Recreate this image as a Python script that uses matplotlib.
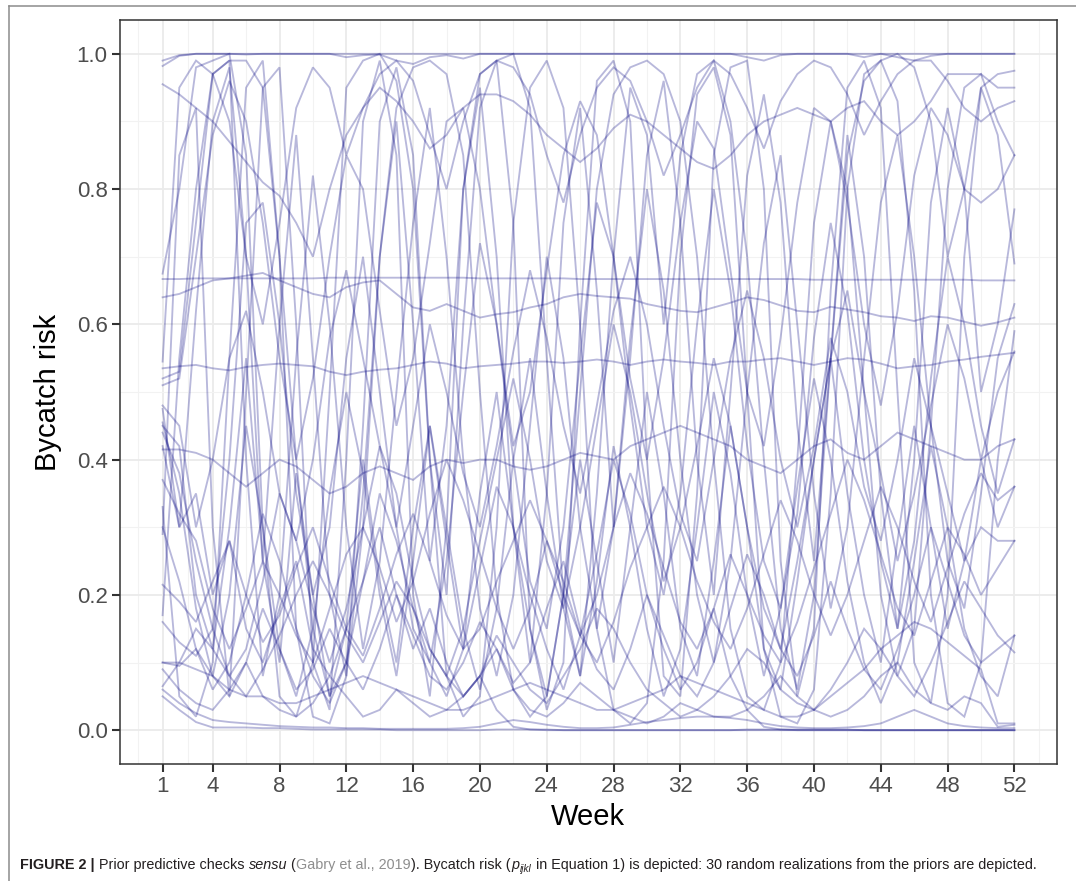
import matplotlib
matplotlib.use("Agg")
import matplotlib.pyplot as plt
from matplotlib.lines import Line2D

plt.rcParams['font.family'] = ['Liberation Sans', 'DejaVu Sans']

# ---------------- data ----------------
weeks = list(range(1, 53))
x_tick_labels = [1, 4, 8, 12, 16, 20, 24, 28, 32, 36, 40, 44, 48, 52]
y_tick_labels = [0.0, 0.2, 0.4, 0.6, 0.8, 1.0]

r01 = [0.982, 0.997, 1.0, 1.0, 1.0, 1.0, 1.0, 1.0, 1.0, 1.0, 1.0, 1.0, 1.0,
       1.0, 1.0, 1.0, 1.0, 1.0, 1.0, 1.0, 1.0, 1.0, 1.0, 1.0, 1.0, 1.0,
       1.0, 1.0, 1.0, 1.0, 1.0, 1.0, 1.0, 1.0, 1.0, 1.0, 1.0, 1.0, 1.0,
       1.0, 1.0, 1.0, 1.0, 1.0, 1.0, 1.0, 1.0, 1.0, 1.0, 1.0, 1.0, 1.0]
r02 = [0.990, 0.998, 1.0, 1.0, 1.0, 0.999, 1.0, 1.0, 1.0, 1.0, 1.0, 0.995, 0.998,
       0.999, 0.990, 0.985, 0.995, 0.998, 0.993, 1.0, 1.0, 1.0, 1.0, 1.0, 1.0, 1.0,
       1.0, 1.0, 1.0, 1.0, 1.0, 1.0, 1.0, 1.0, 1.0, 0.995, 0.990, 0.998, 1.0,
       1.0, 1.0, 1.0, 0.995, 1.0, 0.995, 0.990, 0.997, 1.0, 1.0, 1.0, 1.0, 1.0]
r03 = [0.667, 0.667, 0.668, 0.668, 0.668, 0.668, 0.668, 0.668, 0.668, 0.668, 0.669, 0.669, 0.669,
       0.669, 0.669, 0.669, 0.669, 0.669, 0.669, 0.668, 0.668, 0.668, 0.668, 0.668, 0.668, 0.667,
       0.667, 0.667, 0.667, 0.667, 0.667, 0.667, 0.667, 0.667, 0.667, 0.667, 0.667, 0.667, 0.667,
       0.666, 0.666, 0.666, 0.666, 0.666, 0.666, 0.666, 0.666, 0.666, 0.666, 0.665, 0.665, 0.665]
r04 = [0.640, 0.645, 0.655, 0.665, 0.668, 0.672, 0.676, 0.665, 0.655, 0.645, 0.640, 0.655, 0.662,
       0.665, 0.645, 0.625, 0.620, 0.630, 0.620, 0.610, 0.615, 0.618, 0.625, 0.630, 0.640, 0.645,
       0.642, 0.640, 0.638, 0.630, 0.625, 0.620, 0.618, 0.625, 0.632, 0.640, 0.636, 0.628, 0.620,
       0.618, 0.626, 0.622, 0.618, 0.612, 0.610, 0.605, 0.612, 0.610, 0.604, 0.598, 0.603, 0.610]
r05 = [0.535, 0.538, 0.540, 0.535, 0.532, 0.537, 0.540, 0.542, 0.540, 0.538, 0.530, 0.525, 0.530,
       0.533, 0.535, 0.540, 0.545, 0.542, 0.535, 0.538, 0.540, 0.542, 0.545, 0.545, 0.543, 0.545,
       0.548, 0.545, 0.540, 0.545, 0.548, 0.545, 0.543, 0.540, 0.545, 0.545, 0.548, 0.550, 0.545,
       0.540, 0.545, 0.550, 0.548, 0.542, 0.535, 0.538, 0.540, 0.545, 0.548, 0.552, 0.555, 0.558]
r06 = [0.675, 0.800, 0.980, 0.990, 1.000, 0.850, 0.300, 0.050, 0.020, 0.100, 0.500, 0.950, 0.990,
       1.000, 0.960, 0.800, 0.400, 0.200, 0.600, 0.920, 0.990, 1.000, 0.920, 0.550, 0.200, 0.080,
       0.350, 0.700, 0.950, 0.880, 0.600, 0.850, 0.970, 0.990, 0.900, 0.700, 0.400, 0.150, 0.060,
       0.200, 0.550, 0.850, 0.960, 0.990, 1.000, 0.980, 0.900, 0.700, 0.800, 0.950, 0.970, 0.975]
r07 = [0.45, 0.42, 0.20, 0.12, 0.30, 0.55, 0.25, 0.10, 0.38, 0.20, 0.05, 0.15, 0.40,
       0.22, 0.10, 0.30, 0.45, 0.28, 0.12, 0.35, 0.50, 0.30, 0.15, 0.05, 0.20, 0.40,
       0.25, 0.10, 0.30, 0.50, 0.35, 0.15, 0.08, 0.25, 0.45, 0.30, 0.12, 0.06, 0.22,
       0.40, 0.55, 0.35, 0.20, 0.10, 0.28, 0.45, 0.30, 0.15, 0.25, 0.40, 0.30, 0.36]
r08 = [0.17, 0.55, 0.80, 0.97, 0.99, 0.99, 0.95, 0.70, 0.40, 0.15, 0.05, 0.10, 0.35,
       0.70, 0.92, 0.98, 0.99, 0.97, 0.85, 0.50, 0.20, 0.06, 0.02, 0.05, 0.20, 0.50,
       0.80, 0.94, 0.98, 0.99, 0.97, 0.90, 0.70, 0.40, 0.15, 0.05, 0.03, 0.10, 0.40,
       0.75, 0.90, 0.80, 0.50, 0.20, 0.08, 0.15, 0.45, 0.80, 0.95, 0.97, 0.90, 0.85]
r09 = [0.10, 0.095, 0.12, 0.08, 0.05, 0.10, 0.18, 0.12, 0.06, 0.09, 0.15, 0.10, 0.06,
       0.12, 0.20, 0.14, 0.08, 0.06, 0.10, 0.16, 0.12, 0.07, 0.10, 0.18, 0.25, 0.15,
       0.09, 0.06, 0.12, 0.20, 0.14, 0.08, 0.05, 0.10, 0.18, 0.26, 0.20, 0.12, 0.08,
       0.14, 0.22, 0.15, 0.09, 0.06, 0.12, 0.20, 0.30, 0.22, 0.14, 0.10, 0.12, 0.14]
r10 = [0.09, 0.06, 0.04, 0.03, 0.06, 0.10, 0.05, 0.03, 0.02, 0.04, 0.08, 0.05, 0.02,
       0.03, 0.06, 0.04, 0.02, 0.03, 0.05, 0.08, 0.12, 0.06, 0.03, 0.02, 0.04, 0.07,
       0.05, 0.03, 0.02, 0.01, 0.02, 0.04, 0.03, 0.02, 0.02, 0.03, 0.05, 0.08, 0.05,
       0.03, 0.02, 0.03, 0.05, 0.08, 0.10, 0.06, 0.04, 0.03, 0.05, 0.04, 0.005, 0.008]
r11 = [0.44, 0.38, 0.25, 0.15, 0.08, 0.12, 0.22, 0.35, 0.28, 0.18, 0.10, 0.18, 0.30,
       0.42, 0.35, 0.22, 0.12, 0.08, 0.15, 0.28, 0.40, 0.52, 0.40, 0.25, 0.18, 0.30,
       0.45, 0.60, 0.50, 0.35, 0.22, 0.30, 0.42, 0.55, 0.45, 0.30, 0.18, 0.12, 0.25,
       0.40, 0.55, 0.65, 0.50, 0.38, 0.25, 0.35, 0.48, 0.60, 0.52, 0.40, 0.50, 0.56]
r12 = [0.29, 0.85, 0.92, 0.30, 0.05, 0.50, 0.95, 0.98, 0.60, 0.10, 0.03, 0.40, 0.90,
       0.99, 0.85, 0.20, 0.05, 0.30, 0.80, 0.97, 0.99, 0.75, 0.15, 0.03, 0.10, 0.60,
       0.96, 0.99, 0.90, 0.40, 0.08, 0.05, 0.35, 0.85, 0.98, 0.99, 0.80, 0.25, 0.05,
       0.15, 0.65, 0.95, 0.99, 0.92, 0.50, 0.10, 0.04, 0.20, 0.70, 0.95, 0.88, 0.69]
r13 = [0.16, 0.13, 0.11, 0.15, 0.40, 0.75, 0.78, 0.60, 0.35, 0.20, 0.30, 0.55, 0.70,
       0.50, 0.30, 0.15, 0.10, 0.25, 0.50, 0.72, 0.60, 0.40, 0.22, 0.15, 0.30, 0.55,
       0.78, 0.70, 0.48, 0.30, 0.20, 0.35, 0.60, 0.80, 0.65, 0.42, 0.25, 0.18, 0.32,
       0.58, 0.75, 0.62, 0.40, 0.25, 0.15, 0.28, 0.52, 0.70, 0.60, 0.45, 0.35, 0.43]
r14 = [0.51, 0.52, 0.70, 0.88, 0.96, 0.90, 0.75, 0.55, 0.40, 0.52, 0.70, 0.85, 0.80,
       0.62, 0.45, 0.55, 0.72, 0.90, 0.92, 0.80, 0.60, 0.42, 0.50, 0.68, 0.85, 0.93,
       0.88, 0.70, 0.52, 0.40, 0.55, 0.75, 0.90, 0.86, 0.68, 0.50, 0.42, 0.58, 0.78,
       0.92, 0.90, 0.78, 0.60, 0.48, 0.62, 0.82, 0.92, 0.88, 0.80, 0.78, 0.80, 0.85]
r15 = [0.955, 0.94, 0.92, 0.90, 0.87, 0.84, 0.81, 0.79, 0.75, 0.70, 0.80, 0.88, 0.92,
       0.95, 0.93, 0.90, 0.86, 0.88, 0.92, 0.94, 0.94, 0.93, 0.91, 0.88, 0.86, 0.84,
       0.86, 0.89, 0.91, 0.90, 0.88, 0.86, 0.84, 0.83, 0.85, 0.88, 0.90, 0.91, 0.92,
       0.91, 0.90, 0.92, 0.93, 0.90, 0.88, 0.90, 0.93, 0.97, 0.97, 0.97, 0.95, 0.95]
r16 = [0.415, 0.415, 0.41, 0.40, 0.38, 0.36, 0.38, 0.40, 0.39, 0.37, 0.35, 0.36, 0.38,
       0.39, 0.38, 0.37, 0.39, 0.40, 0.395, 0.40, 0.40, 0.39, 0.385, 0.39, 0.40, 0.41,
       0.405, 0.40, 0.42, 0.43, 0.44, 0.45, 0.44, 0.43, 0.42, 0.40, 0.39, 0.38, 0.40,
       0.42, 0.43, 0.41, 0.40, 0.42, 0.44, 0.43, 0.42, 0.41, 0.40, 0.40, 0.42, 0.43]
r17 = [0.065, 0.10, 0.15, 0.12, 0.08, 0.05, 0.09, 0.14, 0.20, 0.25, 0.20, 0.14, 0.10,
       0.16, 0.22, 0.18, 0.12, 0.08, 0.05, 0.08, 0.14, 0.10, 0.06, 0.04, 0.08, 0.12,
       0.18, 0.15, 0.10, 0.06, 0.04, 0.02, 0.03, 0.05, 0.08, 0.12, 0.10, 0.06, 0.04,
       0.03, 0.06, 0.10, 0.15, 0.12, 0.08, 0.05, 0.10, 0.16, 0.22, 0.18, 0.14, 0.115]
r18 = [0.33, 0.05, 0.02, 0.10, 0.55, 0.95, 0.99, 0.70, 0.15, 0.02, 0.01, 0.08, 0.45,
       0.90, 0.98, 0.85, 0.40, 0.08, 0.02, 0.05, 0.30, 0.75, 0.95, 0.99, 0.92, 0.60,
       0.15, 0.03, 0.01, 0.04, 0.25, 0.70, 0.94, 0.98, 0.88, 0.50, 0.12, 0.02, 0.01,
       0.06, 0.35, 0.80, 0.97, 0.99, 0.93, 0.65, 0.20, 0.04, 0.02, 0.10, 0.40, 0.59]
r19 = [0.48, 0.45, 0.30, 0.40, 0.55, 0.62, 0.50, 0.35, 0.28, 0.40, 0.58, 0.68, 0.55,
       0.42, 0.30, 0.45, 0.60, 0.50, 0.38, 0.30, 0.42, 0.56, 0.68, 0.58, 0.45, 0.35,
       0.48, 0.62, 0.70, 0.60, 0.45, 0.32, 0.25, 0.40, 0.55, 0.65, 0.55, 0.40, 0.30,
       0.42, 0.58, 0.50, 0.36, 0.28, 0.40, 0.55, 0.45, 0.35, 0.25, 0.30, 0.28, 0.28]
r20 = [0.42, 0.30, 0.35, 0.20, 0.28, 0.15, 0.10, 0.18, 0.25, 0.12, 0.08, 0.15, 0.22,
       0.30, 0.20, 0.12, 0.18, 0.10, 0.05, 0.08, 0.03, 0.005, 0.001, 0.001, 0.0, 0.0,
       0.0, 0.0, 0.0, 0.0, 0.0, 0.0, 0.0, 0.0, 0.0, 0.0, 0.0, 0.0, 0.0,
       0.0, 0.0, 0.0, 0.0, 0.0, 0.0, 0.0, 0.0, 0.0, 0.0, 0.0, 0.0, 0.0]
r21 = [0.545, 0.95, 0.99, 0.97, 0.90, 0.70, 0.60, 0.75, 0.92, 0.98, 0.95, 0.85, 0.92,
       0.97, 0.99, 0.96, 0.88, 0.80, 0.90, 0.97, 0.99, 0.98, 0.94, 0.85, 0.78, 0.88,
       0.95, 0.98, 0.96, 0.90, 0.82, 0.88, 0.95, 0.99, 0.97, 0.92, 0.86, 0.93, 0.97,
       0.99, 0.98, 0.94, 0.88, 0.93, 0.97, 0.99, 0.99, 0.96, 0.92, 0.90, 0.92, 0.93]
r22 = [0.06, 0.04, 0.025, 0.015, 0.012, 0.01, 0.008, 0.006, 0.005, 0.004, 0.004, 0.003, 0.003,
       0.002, 0.002, 0.002, 0.002, 0.002, 0.003, 0.005, 0.01, 0.015, 0.012, 0.008, 0.005, 0.003,
       0.003, 0.004, 0.008, 0.012, 0.015, 0.018, 0.02, 0.02, 0.018, 0.015, 0.01, 0.006, 0.004,
       0.003, 0.003, 0.004, 0.006, 0.01, 0.02, 0.03, 0.02, 0.01, 0.006, 0.004, 0.003, 0.003]
r23 = [0.05, 0.03, 0.012, 0.004, 0.004, 0.004, 0.003, 0.003, 0.002, 0.001, 0.001, 0.001, 0.001,
       0.001, 0.0, 0.0, 0.0, 0.0, 0.0, 0.0, 0.001, 0.001, 0.001, 0.0, 0.0, 0.0,
       0.0, 0.0, 0.0, 0.0, 0.0, 0.0, 0.0, 0.0, 0.0, 0.001, 0.001, 0.001, 0.001,
       0.001, 0.001, 0.001, 0.0, 0.0, 0.0, 0.0, 0.0, 0.0, 0.0, 0.0, 0.0, 0.0]
r24 = [0.30, 0.22, 0.12, 0.06, 0.10, 0.20, 0.32, 0.25, 0.15, 0.08, 0.04, 0.10, 0.22,
       0.35, 0.28, 0.18, 0.10, 0.05, 0.12, 0.24, 0.36, 0.30, 0.20, 0.12, 0.06, 0.14,
       0.26, 0.40, 0.32, 0.20, 0.12, 0.06, 0.10, 0.18, 0.08, 0.03, 0.005, 0.001, 0.0,
       0.0, 0.0, 0.0, 0.0, 0.0, 0.0, 0.0, 0.0, 0.0, 0.0, 0.0, 0.0, 0.0]
r25 = [0.475, 0.30, 0.62, 0.90, 0.98, 0.70, 0.25, 0.60, 0.88, 0.55, 0.20, 0.08, 0.30,
       0.70, 0.90, 0.60, 0.25, 0.45, 0.80, 0.95, 0.70, 0.30, 0.10, 0.35, 0.75, 0.92,
       0.65, 0.30, 0.55, 0.85, 0.96, 0.75, 0.40, 0.20, 0.50, 0.82, 0.94, 0.78, 0.45,
       0.25, 0.55, 0.88, 0.70, 0.35, 0.15, 0.40, 0.78, 0.92, 0.80, 0.50, 0.60, 0.77]
r26 = [0.455, 0.35, 0.18, 0.08, 0.20, 0.45, 0.30, 0.12, 0.05, 0.15, 0.35, 0.50, 0.38,
       0.20, 0.08, 0.25, 0.45, 0.30, 0.15, 0.06, 0.18, 0.40, 0.55, 0.35, 0.18, 0.08,
       0.22, 0.42, 0.30, 0.15, 0.05, 0.12, 0.30, 0.50, 0.38, 0.20, 0.08, 0.18, 0.36,
       0.52, 0.40, 0.22, 0.10, 0.04, 0.10, 0.25, 0.42, 0.30, 0.15, 0.08, 0.05, 0.14]
r27 = [0.10, 0.10, 0.09, 0.08, 0.06, 0.05, 0.05, 0.04, 0.04, 0.05, 0.06, 0.07, 0.08,
       0.07, 0.06, 0.05, 0.04, 0.03, 0.03, 0.04, 0.05, 0.06, 0.07, 0.06, 0.05, 0.04,
       0.03, 0.03, 0.04, 0.05, 0.06, 0.08, 0.07, 0.06, 0.05, 0.04, 0.03, 0.02, 0.02,
       0.03, 0.05, 0.07, 0.09, 0.12, 0.14, 0.16, 0.15, 0.13, 0.11, 0.09, 0.01, 0.01]
r28 = [0.215, 0.19, 0.16, 0.22, 0.28, 0.20, 0.13, 0.17, 0.24, 0.30, 0.22, 0.15, 0.11,
       0.18, 0.26, 0.32, 0.25, 0.17, 0.12, 0.15, 0.22, 0.28, 0.34, 0.28, 0.20, 0.14,
       0.10, 0.16, 0.24, 0.30, 0.36, 0.30, 0.22, 0.16, 0.12, 0.18, 0.26, 0.34, 0.28,
       0.20, 0.14, 0.20, 0.28, 0.36, 0.30, 0.22, 0.16, 0.24, 0.32, 0.38, 0.34, 0.36]
r29 = [0.52, 0.53, 0.75, 0.97, 0.99, 0.40, 0.08, 0.20, 0.55, 0.82, 0.60, 0.30, 0.12,
       0.25, 0.50, 0.75, 0.92, 0.70, 0.40, 0.18, 0.08, 0.20, 0.45, 0.70, 0.55, 0.30,
       0.15, 0.30, 0.58, 0.80, 0.65, 0.40, 0.20, 0.10, 0.25, 0.50, 0.72, 0.85, 0.60,
       0.35, 0.18, 0.30, 0.55, 0.78, 0.88, 0.70, 0.45, 0.25, 0.18, 0.35, 0.55, 0.63]
r30 = [0.37, 0.32, 0.28, 0.18, 0.12, 0.18, 0.25, 0.20, 0.14, 0.10, 0.18, 0.26, 0.30,
       0.24, 0.16, 0.22, 0.32, 0.40, 0.34, 0.26, 0.18, 0.12, 0.18, 0.28, 0.22, 0.14,
       0.20, 0.30, 0.38, 0.32, 0.24, 0.16, 0.12, 0.18, 0.26, 0.20, 0.14, 0.10, 0.16,
       0.24, 0.32, 0.40, 0.34, 0.26, 0.18, 0.14, 0.22, 0.30, 0.26, 0.20, 0.24, 0.28]

realizations = [r01, r02, r03, r04, r05, r06, r07, r08, r09, r10,
                r11, r12, r13, r14, r15, r16, r17, r18, r19, r20,
                r21, r22, r23, r24, r25, r26, r27, r28, r29, r30]

# ---------------- figure ----------------
W, H = 1076, 881
fig = plt.figure(figsize=(W / 100, H / 100), dpi=100)
fig.patch.set_facecolor('white')

pl, pr, pt, pb = 120, 1057, 20, 764
ax = fig.add_axes([pl / W, 1 - pb / H, (pr - pl) / W, (pb - pt) / H])

for series in realizations:
    ax.plot(weeks, series, color='navy', alpha=0.28, lw=1.35, solid_joinstyle='miter')

ax.set_xlim(-1.55, 54.55)
ax.set_ylim(-0.05, 1.05)

ax.set_xticks(x_tick_labels)
ax.set_xticklabels([str(v) for v in x_tick_labels])
ax.set_yticks(y_tick_labels)
ax.set_yticklabels([f"{v:.1f}" for v in y_tick_labels])

# minor breaks (midpoints as in ggplot)
ext = [x_tick_labels[0] - 3] + x_tick_labels + [x_tick_labels[-1] + 3]
minor_x = [(a + b) / 2 for a, b in zip(ext[:-1], ext[1:])]
ax.set_xticks(minor_x, minor=True)
ax.set_yticks([0.1, 0.3, 0.5, 0.7, 0.9], minor=True)

ax.set_axisbelow(True)
ax.grid(which='major', color='#EBEBEB', lw=1.3)
ax.grid(which='minor', color='#F2F2F2', lw=0.75)

ax.tick_params(which='major', length=5.5, width=1.5, color='#333333',
               labelsize=16, labelcolor='#4D4D4D', pad=3.5)
ax.tick_params(which='minor', length=0)

for s in ax.spines.values():
    s.set_color('#333333')
    s.set_linewidth(1.1)

fig.text(48 / W, 1 - 392 / H, 'Bycatch risk', rotation=90, ha='center', va='center',
         fontsize=21, color='black')
fig.text(588 / W, 1 - 825 / H, 'Week', ha='center', va='baseline', fontsize=21, color='black')

# outer frame
fig.add_artist(Line2D([8.5 / W, 8.5 / W], [0, 1 - 5.5 / H], transform=fig.transFigure,
                      color='#8C8C8C', lw=1.1))
fig.add_artist(Line2D([8.5 / W, 1.0], [1 - 5.5 / H, 1 - 5.5 / H], transform=fig.transFigure,
                      color='#8C8C8C', lw=1.1))

# caption built from styled pieces: (text, style, dy px, size scale, gap in spaces)
cap_size = 10.35
dark = '#231F20'
grey = '#8E8E8E'
pieces = [
    ("FIGURE 2 |", dict(weight='bold', color=dark), 0, 1.0, 1.0),
    ("Prior predictive checks", dict(color=dark), 0, 1.0, 1.0),
    ("sensu", dict(style='italic', color=dark), 0, 1.0, 0.6),
    ("(", dict(color=dark), 0, 1.0, 0.0),
    ("Gabry et al., 2019", dict(color=grey), 0, 1.0, 0.0),
    ("). Bycatch risk (", dict(color=dark), 0, 1.0, 0.0),
    ("p", dict(style='italic', color=dark), 0, 1.0, 0.0),
    ("ijkl", dict(style='italic', color=dark), -3, 0.7, 1.0),
    ("in Equation 1) is depicted: 30 random realizations from the priors are depicted.",
     dict(color=dark), 0, 1.0, 0.0),
]
renderer = fig.canvas.get_renderer()
probe1 = fig.text(0, 0, 'a a', fontsize=cap_size)
probe2 = fig.text(0, 0, 'aa', fontsize=cap_size)
space_px = probe1.get_window_extent(renderer).width - probe2.get_window_extent(renderer).width
probe1.remove(); probe2.remove()

x_px = 20.0
base_px = 869.0
for txt, style, dy, scale, gap in pieces:
    t = fig.text(x_px / W, 1 - (base_px - dy) / H, txt, fontsize=cap_size * scale,
                 va='baseline', ha='left', **style)
    w = t.get_window_extent(renderer).width
    x_px += w + space_px * gap + 0.5

fig.savefig('out.png', dpi=100, facecolor='white')
